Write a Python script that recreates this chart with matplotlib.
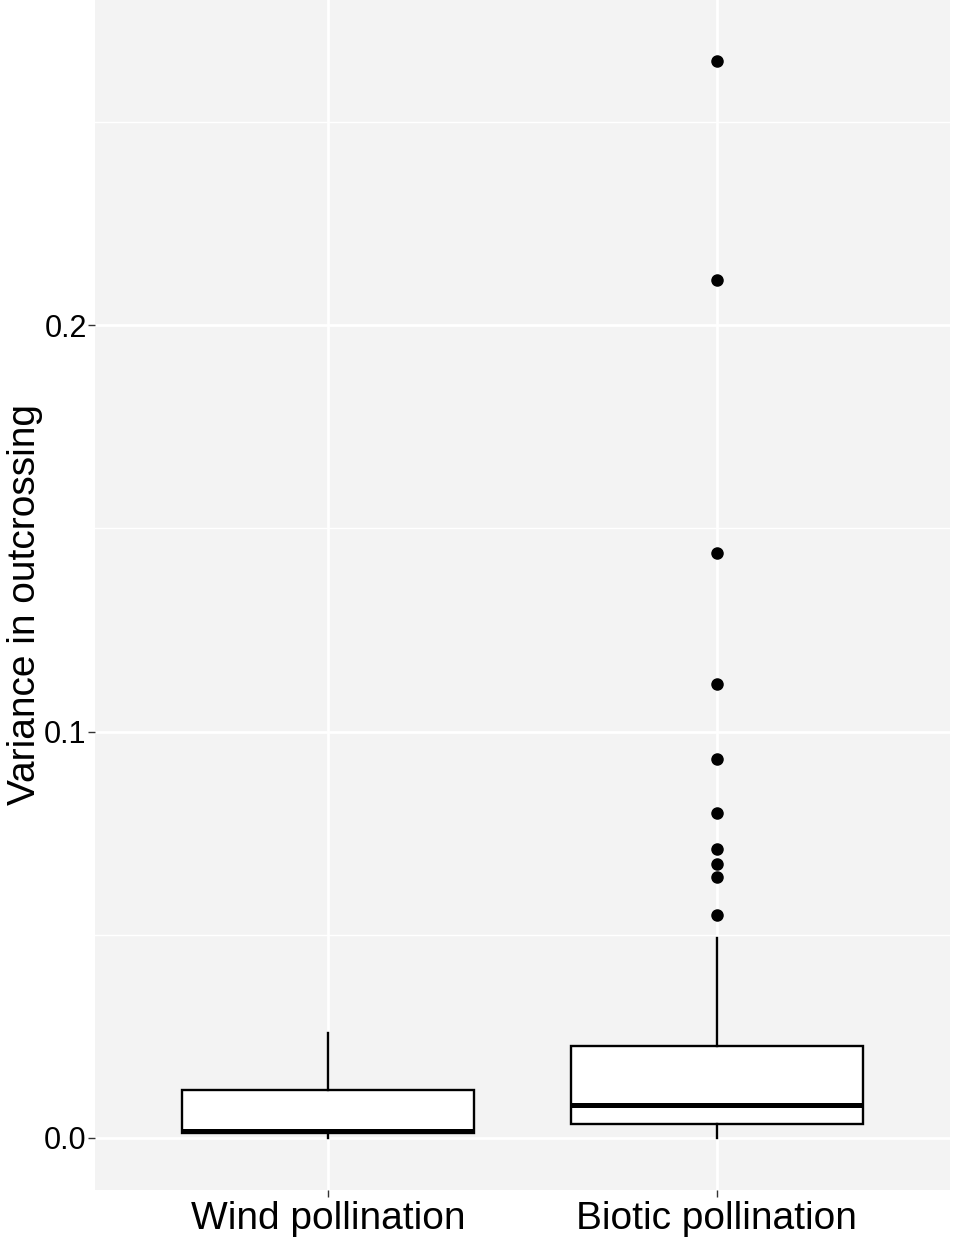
import matplotlib
matplotlib.use("Agg")
import matplotlib.pyplot as plt
from matplotlib.ticker import MultipleLocator

plt.rcParams['font.family'] = ['Liberation Sans', 'DejaVu Sans']

categories = ["Wind pollination", "Biotic pollination"]
whisker_low = [0.0, 0.0]
q1 = [0.0012, 0.0034]
median = [0.0017, 0.0081]
q3 = [0.0118, 0.0227]
whisker_high = [0.0258, 0.0493]
outliers = [[], [0.2651, 0.2110, 0.1440, 0.1118, 0.0933, 0.0799, 0.0712, 0.0674, 0.0643, 0.0548]]
yticks = [0.0, 0.1, 0.2]
yticklabels = ["0.0", "0.1", "0.2"]
ylim = (-0.0128, 0.2800)

W, H = 957, 1245
fig = plt.figure(figsize=(W / 100, H / 100), dpi=100)
ax = fig.add_axes([95 / W, 1 - 1190 / H, (950 - 95) / W, 1190 / H])
ax.set_facecolor('#F3F3F3')

stats = []
for i, c in enumerate(categories):
    stats.append(dict(label=c, whislo=whisker_low[i], q1=q1[i], med=median[i],
                      q3=q3[i], whishi=whisker_high[i], fliers=outliers[i]))

positions = [1, 2]
ax.bxp(stats, positions=positions, widths=0.75, patch_artist=True, showcaps=False,
       boxprops=dict(facecolor='white', edgecolor='black', linewidth=1.7),
       medianprops=dict(color='black', linewidth=3.6, solid_capstyle='butt'),
       whiskerprops=dict(color='black', linewidth=1.7),
       flierprops=dict(marker='o', markerfacecolor='black', markeredgecolor='black',
                       markersize=8, linestyle='none'),
       zorder=3)

ax.set_ylim(*ylim)
ax.set_xlim(0.4, 2.6)

ax.set_yticks(yticks)
ax.set_yticklabels(yticklabels)
ax.yaxis.set_minor_locator(MultipleLocator(0.05))
ax.set_xticks(positions)
ax.set_xticklabels(categories)

ax.grid(which='major', color='white', linewidth=2.0, zorder=0)
ax.grid(which='minor', axis='y', color='white', linewidth=1.0, zorder=0)
ax.set_axisbelow(True)

for s in ax.spines.values():
    s.set_visible(False)

ax.tick_params(axis='y', which='major', labelsize=22, length=5, width=1, color='#333333',
               labelcolor='black', pad=1)
ax.tick_params(axis='x', which='major', labelsize=28, length=5, width=1, color='#333333',
               labelcolor='black', pad=3)
ax.tick_params(which='minor', length=0)

ax.set_ylabel("Variance in outcrossing", fontsize=28, labelpad=0.5)
ax.yaxis.label.set_y(0.4924)

fig.savefig("out.png", dpi=100)
